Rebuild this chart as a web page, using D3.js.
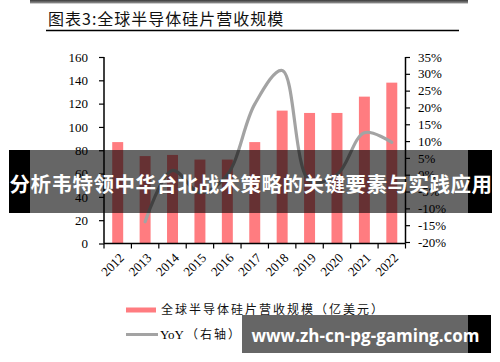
<!DOCTYPE html>
<html>
<head>
<meta charset="utf-8">
<script src="https://cdn.jsdelivr.net/npm/d3@7"></script>
<style>
  body { margin: 0; background: #fff; }
  svg { display: block; }
  .num { font-family: "Liberation Serif", "Times New Roman", serif; font-size: 13px; fill: #000; }
  .cjk { font-family: "Noto Sans CJK SC", sans-serif; }
</style>
</head>
<body>
<script>
// chart data
var years = ["2012", "2013", "2014", "2015", "2016", "2017", "2018", "2019", "2020", "2021", "2022"];
var revenue = [87, 75, 76, 72, 72, 87, 114, 112, 112, 126, 138];   // 亿美元
var yoy = [null, -14, 1.3, -5.3, 0, 21, 31, -1.8, 0, 12.5, 9.6];    // %
var leftTicks = [0, 20, 40, 60, 80, 100, 120, 140, 160];
var rightTicks = [-20, -15, -10, -5, 0, 5, 10, 15, 20, 25, 30, 35];

var width = 500, height = 362;
var plot = {left: 104, right: 405.5, top: 57, bottom: 243.5};

var svg = d3.select("body").append("svg")
    .attr("width", width)
    .attr("height", height);

// top dark strip
var grad = svg.append("defs").append("linearGradient")
    .attr("id", "strip").attr("x1", 0).attr("x2", 0).attr("y1", 0).attr("y2", 1);
grad.append("stop").attr("offset", "0%").attr("stop-color", "#3a3a3a");
grad.append("stop").attr("offset", "100%").attr("stop-color", "#9a9a9a");
svg.append("rect")
    .attr("x", 30).attr("y", 0).attr("width", 438).attr("height", 3.5)
    .attr("fill", "url(#strip)");

// title
svg.append("text")
    .attr("class", "cjk")
    .attr("x", 48).attr("y", 25)
    .attr("font-size", 16)
    .attr("letter-spacing", 1)
    .attr("fill", "#111")
    .text("图表3:全球半导体硅片营收规模");
svg.append("line")
    .attr("x1", 46).attr("x2", 459).attr("y1", 30.5).attr("y2", 30.5)
    .attr("stroke", "#000").attr("stroke-width", 1.6);

// scales
var x = d3.scaleBand()
    .domain(years)
    .range([plot.left, plot.right])
    .paddingInner(0.6)
    .paddingOuter(0.3);

var yL = d3.scaleLinear().domain([0, 160]).range([plot.bottom, plot.top]);
var yR = d3.scaleLinear().domain([-20, 35]).range([plot.bottom - 1.5, plot.top]);

// bars
svg.append("g").selectAll("rect")
    .data(revenue)
    .enter().append("rect")
    .attr("x", function(d, i) { return x(years[i]); })
    .attr("y", function(d) { return yL(d); })
    .attr("width", x.bandwidth())
    .attr("height", function(d) { return yL(0) - yL(d); })
    .attr("fill", "#ff7c80");

// yoy line
var pts = yoy.map(function(d, i) { return {year: years[i], v: d}; })
    .filter(function(d) { return d.v !== null; });
var line = d3.line()
    .x(function(d) { return x(d.year) + x.bandwidth() / 2; })
    .y(function(d) { return yR(d.v); })
    .curve(d3.curveCatmullRom.alpha(0.5));
svg.append("path")
    .datum(pts)
    .attr("d", line)
    .attr("fill", "none")
    .attr("stroke", "#a3a3a3")
    .attr("stroke-width", 3.2)
    .attr("stroke-linecap", "round");

// left axis
var gL = svg.append("g")
    .attr("transform", "translate(" + plot.left + ",0)")
    .call(d3.axisLeft(yL).tickValues(leftTicks).tickSize(5).tickSizeOuter(0).tickPadding(11));
// right axis
var gR = svg.append("g")
    .attr("transform", "translate(" + plot.right + ",0)")
    .call(d3.axisRight(yR).tickValues(rightTicks).tickSize(4.5).tickSizeOuter(0).tickPadding(8)
      .tickFormat(function(d) { return d + "%"; }));

[gL, gR].forEach(function(g) {
  g.select(".domain").attr("stroke", "#000").attr("stroke-width", 1.5)
    .attr("d", "M0," + plot.top + "V" + plot.bottom);
  g.selectAll(".tick line").attr("stroke", "#000").attr("stroke-width", 1.2);
  g.selectAll(".tick text").attr("class", "num").attr("font-size", null).attr("font-family", null);
});

// x axis (ticks between categories)
var gX = svg.append("g");
gX.append("line")
    .attr("x1", plot.left).attr("x2", plot.right)
    .attr("y1", plot.bottom).attr("y2", plot.bottom)
    .attr("stroke", "#000").attr("stroke-width", 1.5);
var step = x.step();
var bounds = d3.range(years.length + 1).map(function(i) { return plot.left + i * step; });
gX.selectAll(".xt")
    .data(bounds)
    .enter().append("line")
    .attr("x1", function(d) { return d; }).attr("x2", function(d) { return d; })
    .attr("y1", plot.bottom).attr("y2", plot.bottom + 5)
    .attr("stroke", "#000").attr("stroke-width", 1.2);
gX.selectAll(".xl")
    .data(years)
    .enter().append("text")
    .attr("class", "num")
    .attr("text-anchor", "end")
    .attr("transform", function(d) {
      return "translate(" + (x(d) + x.bandwidth() / 2 + 4) + "," + (plot.bottom + 12) + ") rotate(-45)";
    })
    .attr("dy", "0.35em")
    .text(function(d) { return d; });

// legend
var lg = svg.append("g");
lg.append("rect")
    .attr("x", 126).attr("y", 307.5).attr("width", 30).attr("height", 5)
    .attr("fill", "#ff7c80");
lg.append("text")
    .attr("class", "cjk")
    .attr("x", 161).attr("y", 314)
    .attr("font-size", 12).attr("letter-spacing", 2)
    .attr("fill", "#111")
    .text("全球半导体硅片营收规模（亿美元）");
lg.append("line")
    .attr("x1", 126).attr("x2", 158).attr("y1", 334.5).attr("y2", 334.5)
    .attr("stroke", "#a3a3a3").attr("stroke-width", 3);
lg.append("text")
    .attr("class", "num")
    .attr("x", 160).attr("y", 339)
    .attr("font-size", 13)
    .text("YoY");
lg.append("text")
    .attr("class", "cjk")
    .attr("x", 186).attr("y", 339)
    .attr("font-size", 12).attr("letter-spacing", 2)
    .attr("fill", "#111")
    .text("（右轴）");

// overlay banners
var ov = svg.append("g");
ov.append("rect").attr("x", 9).attr("y", 150).attr("width", 21).attr("height", 63).attr("fill", "#000");
ov.append("rect").attr("x", 468).attr("y", 150).attr("width", 24).attr("height", 63).attr("fill", "#000");
ov.append("rect").attr("x", 30).attr("y", 150).attr("width", 438).attr("height", 63).attr("fill", "rgba(0,0,0,0.6)");
ov.append("text")
    .attr("class", "cjk")
    .attr("x", 251).attr("y", 192)
    .attr("text-anchor", "middle")
    .attr("font-size", 20.5).attr("font-weight", "bold")
    .attr("letter-spacing", 0.5)
    .attr("fill", "#fff")
    .text("分析韦特领中华台北战术策略的关键要素与实践应用");

ov.append("rect").attr("x", 242).attr("y", 315).attr("width", 226).attr("height", 38).attr("fill", "rgba(0,0,0,0.6)");
ov.append("rect").attr("x", 468).attr("y", 315).attr("width", 23).attr("height", 38).attr("fill", "#000");
ov.append("text")
    .attr("x", 365.5).attr("y", 342)
    .attr("text-anchor", "middle")
    .attr("font-family", "'Open Sans', 'Noto Sans', sans-serif")
    .attr("font-size", 17).attr("font-weight", "bold")
    .attr("fill", "#fff")
    .text("www.zh-cn-pg-gaming.com");
</script>
</body>
</html>
